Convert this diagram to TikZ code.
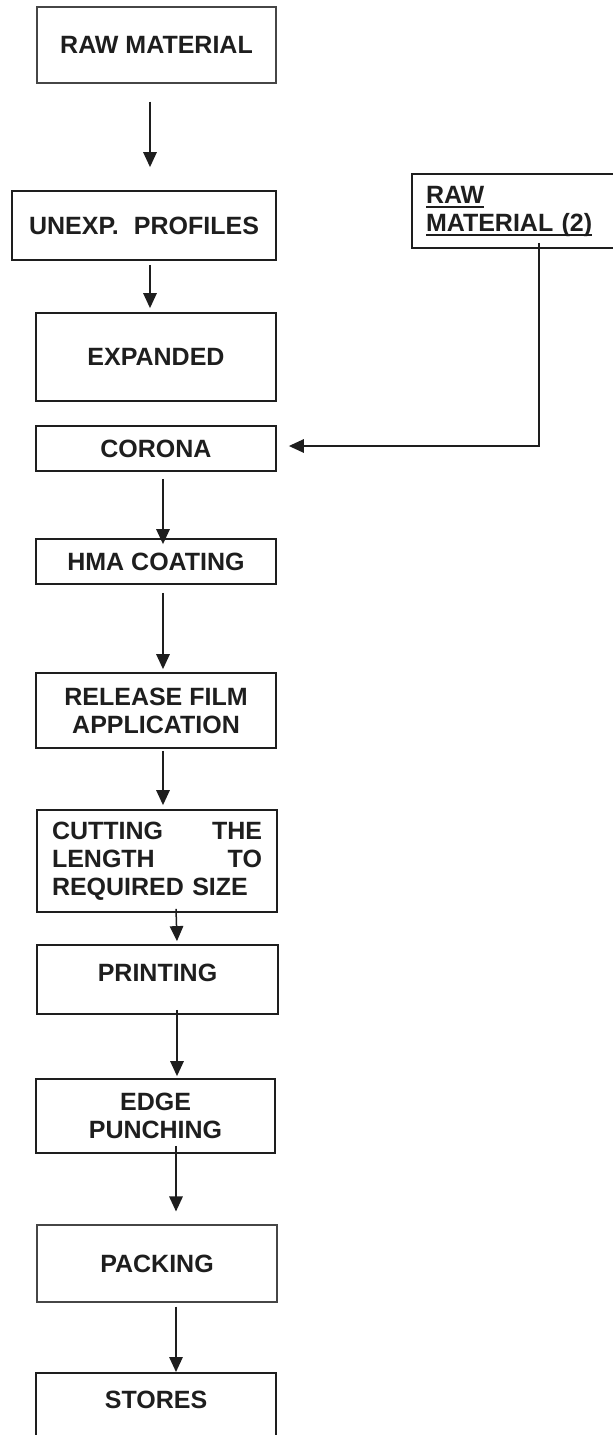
\documentclass[tikz,border=0pt]{standalone}
\usepackage{fontspec}
\setmainfont{Liberation Sans}
\usepackage{tikz}
\usetikzlibrary{arrows.meta}
\definecolor{BoxLine}{RGB}{30,30,30}
\definecolor{BoxLineLight}{RGB}{70,70,70}
\newcommand{\ulbox}[1]{\leavevmode\sbox0{#1}\rlap{\rule[-5pt]{\wd0}{2pt}}\usebox0}
\tikzset{
  stepbox/.style={draw=BoxLine, line width=1.8pt, inner sep=0pt, align=center,
                  font=\fontsize{25}{28}\selectfont\bfseries, text=BoxLine},
  thinbox/.style={stepbox, draw=BoxLineLight, line width=1.1pt},
  % one arrow style for every step of the flow
  flow/.style={-{Triangle[length=15pt,width=13.5pt]}, line width=1.5pt, BoxLine},
}

\begin{document}
\begin{tikzpicture}[x=1pt,y=-1pt]
  \useasboundingbox (0,0) rectangle (613,1435);
  \clip (0,0) rectangle (613,1435);

  % --- Main line -------------------------------------------------------------
  \node[thinbox, minimum width=239pt, minimum height=76pt] (rawmat)   at (156.5,45)    {RAW MATERIAL};
  \node[stepbox, minimum width=264pt, minimum height=69pt] (unexp)    at (144,225.5)   {UNEXP.\hspace{15pt}PROFILES};
  \node[stepbox, minimum width=240pt, minimum height=88pt] (expanded) at (156,357)     {EXPANDED};
  \node[stepbox, minimum width=240pt, minimum height=45pt] (corona)   at (156,448.5)   {CORONA};
  \node[stepbox, minimum width=240pt, minimum height=45pt] (hma)      at (156,561.5)   {HMA COATING};
  \node[stepbox, minimum width=240pt, minimum height=75pt] (release)  at (156,710.5)   {RELEASE FILM\\APPLICATION};
  \node[stepbox, minimum width=240pt, minimum height=102pt, text width=210pt, align=left] (cutting) at (157,861)
       {CUTTING\hfill THE\\LENGTH\hfill TO\\REQUIRED SIZE};
  \node[stepbox, minimum width=241pt, minimum height=69pt, text depth=13pt] (printing) at (157.5,979.5) {PRINTING};
  \node[stepbox, minimum width=239pt, minimum height=74pt] (edge)     at (155.5,1116)  {EDGE\\PUNCHING};
  \node[thinbox, minimum width=240pt, minimum height=77pt] (packing)  at (157,1263.5)  {PACKING};
  \node[stepbox, minimum width=240pt, anchor=north, inner ysep=18pt, text depth=30pt] (stores) at (156,1372) {STORES};

  \draw[flow] ([xshift=-6.5pt,yshift=-18pt]rawmat.south) -- ([xshift=6pt,yshift=23pt]unexp.north);
  \draw[flow] ([xshift=6pt,yshift=-4pt]unexp.south)      -- ([xshift=-6pt,yshift=4pt]expanded.north);
  \draw[flow] ([xshift=7pt,yshift=-7pt]corona.south)     -- ([xshift=7pt,yshift=-6pt]hma.north);
  \draw[flow] ([xshift=7pt,yshift=-8pt]hma.south)        -- ([xshift=7pt,yshift=3pt]release.north);
  \draw[flow] ([xshift=7pt,yshift=-2pt]release.south)    -- ([xshift=6pt,yshift=4pt]cutting.north);
  \draw[flow] ([xshift=19pt,yshift=4pt]cutting.south)    -- ([xshift=19.5pt,yshift=3pt]printing.north);
  \draw[flow] ([xshift=19.5pt,yshift=5pt]printing.south) -- ([xshift=21.5pt,yshift=2pt]edge.north);
  \draw[flow] ([xshift=20.5pt,yshift=8pt]edge.south)     -- ([xshift=19pt,yshift=13pt]packing.north);
  \draw[flow] ([xshift=19pt,yshift=-4pt]packing.south)   -- ([xshift=20pt]stores.north);

  % --- Second raw material, fed in at corona ---------------------------------
  \node[stepbox, minimum width=228pt, minimum height=74pt, text width=200pt, align=left] (raw2) at (526,211)
       {\ulbox{RAW}\\\ulbox{MATERIAL (2)}};
  \draw[flow] ([xshift=13pt,yshift=6pt]raw2.south) |- ([xshift=12pt,yshift=2.5pt]corona.east);

\end{tikzpicture}
\end{document}
